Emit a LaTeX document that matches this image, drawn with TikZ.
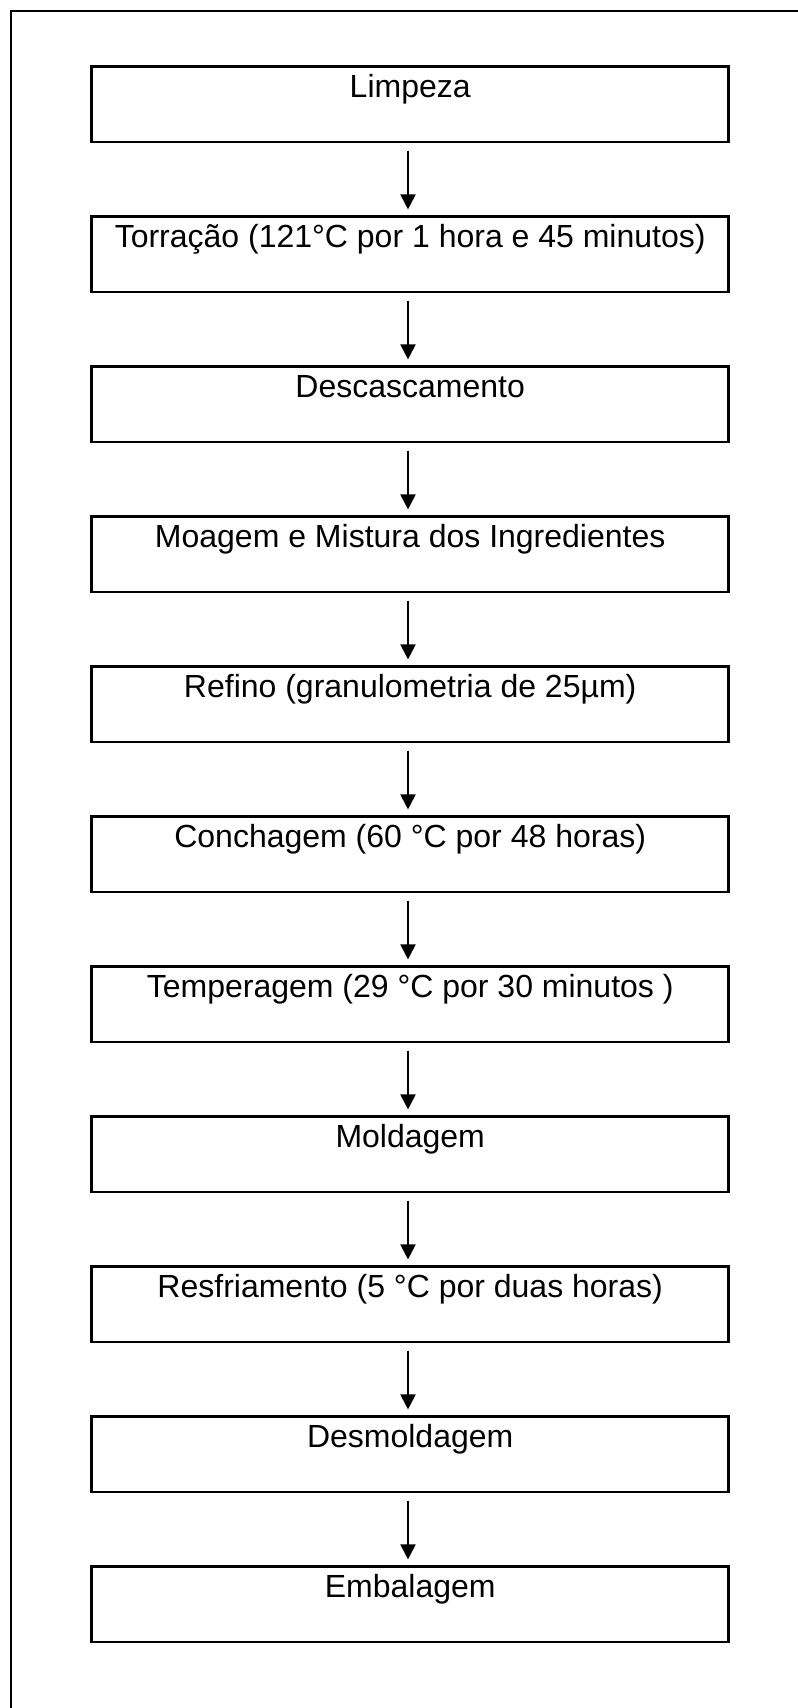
\documentclass[tikz,border=0pt]{standalone}
\usepackage{fontspec}
\setmainfont{Liberation Sans}
\usetikzlibrary{arrows.meta}
\begin{document}
\begin{tikzpicture}[x=0.75pt,y=-0.75pt,
  stepbox/.style={draw=black, line width=1.9pt, rectangle, inner sep=0pt,
    minimum width=477.8pt, text height=23.3pt, text depth=33.2pt,
    font=\fontsize{24pt}{28pt}\selectfont, align=center},
  flowarrow/.style={line width=1.5pt, -{Triangle[width=11.25pt,length=11.25pt]},
    shorten <=5.5pt, shorten >=4.5pt}]
\useasboundingbox (0,0) rectangle (798,1708);
\begin{scope}
\clip (0,0) rectangle (798,1708);
\draw[line width=1.6pt] (11,11) rectangle (830,1740);
\end{scope}
\node[stepbox] (b1)  at (410.2, 104.35) {Limpeza};
\node[stepbox] (b2)  at (410.2, 254.35) {Torração (121°C por 1 hora e 45 minutos)};
\node[stepbox] (b3)  at (410.2, 404.35) {Descascamento};
\node[stepbox] (b4)  at (410.2, 554.35) {Moagem e Mistura dos Ingredientes};
\node[stepbox] (b5)  at (410.2, 704.35) {Refino (granulometria de 25µm)};
\node[stepbox] (b6)  at (410.2, 854.35) {Conchagem (60 °C por 48 horas)};
\node[stepbox] (b7)  at (410.2, 1004.35) {Temperagem (29 °C por 30 minutos )};
\node[stepbox] (b8)  at (410.2, 1154.35) {Moldagem};
\node[stepbox] (b9)  at (410.2, 1304.35) {Resfriamento (5 °C por duas horas)};
\node[stepbox] (b10) at (410.2, 1454.35) {Desmoldagem};
\node[stepbox] (b11) at (410.2, 1604.35) {Embalagem};
\foreach \a/\b in {b1/b2,b2/b3,b3/b4,b4/b5,b5/b6,b6/b7,b7/b8,b8/b9,b9/b10,b10/b11}
  \draw[flowarrow] ([xshift=-1.65pt]\a.south) -- ([xshift=-1.65pt]\b.north);
\end{tikzpicture}
\end{document}
